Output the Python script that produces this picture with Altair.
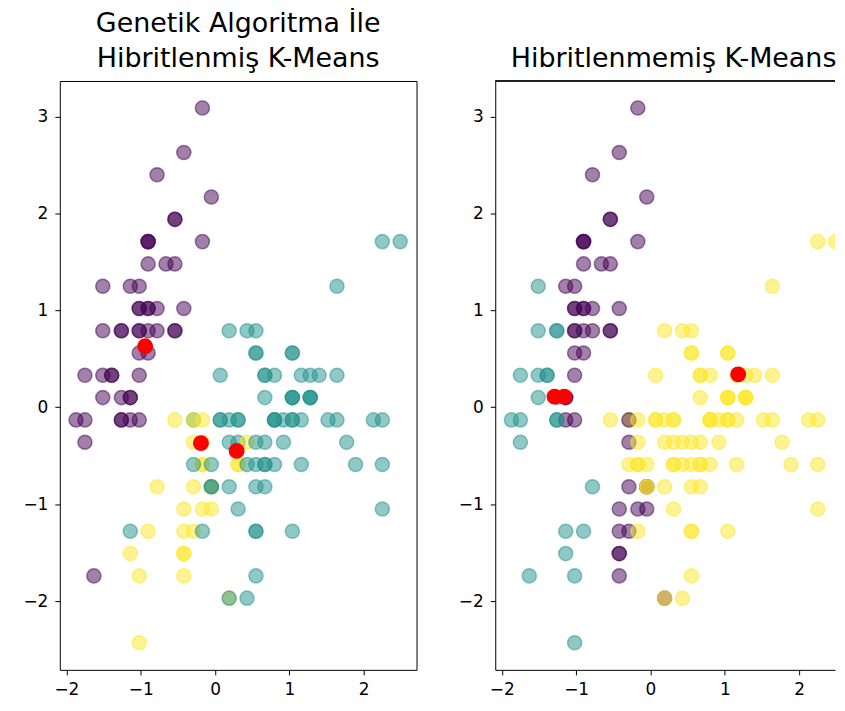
import altair as alt
import pandas as pd

# standardized sepal length (x) and sepal width (y) of the 150 points, in drawing order
x_vals = [
    -0.90, -1.14, -1.39, -1.51, -1.02, -0.54, -1.51, -1.02, -1.75, -1.14,
    -0.54, -1.26, -1.26, -1.87, -0.05, -0.17, -0.54, -0.90, -0.17, -0.90,
    -0.54, -0.90, -1.51, -0.90, -1.26, -1.02, -1.02, -0.78, -0.78, -1.39,
    -1.26, -0.54, -0.78, -0.42, -1.14, -1.02, -0.42, -1.14, -1.75, -0.90,
    -1.02, -1.63, -1.75, -1.02, -0.90, -1.26, -0.90, -1.51, -0.66, -1.02,
    1.40, 0.67, 1.28, -0.42, 0.80, -0.17, 0.55, -1.14, 0.92, -0.78,
    -1.02, 0.07, 0.19, 0.31, -0.29, 1.04, -0.29, -0.05, 0.43, -0.29,
    0.07, 0.31, 0.55, 0.31, 0.67, 0.92, 1.16, 1.04, 0.19, -0.17,
    -0.42, -0.42, -0.05, 0.19, -0.54, 0.19, 1.04, 0.55, -0.29, -0.42,
    -0.42, 0.31, -0.05, -1.02, -0.29, -0.17, -0.17, 0.43, -0.90, -0.17,
    0.55, -0.05, 1.52, 0.55, 0.80, 2.13, -1.14, 1.77, 1.04, 1.64,
    0.80, 0.67, 1.16, -0.17, -0.05, 0.67, 0.80, 2.25, 2.25, 0.19,
    1.28, -0.29, 2.25, 0.55, 1.04, 1.64, 0.43, 0.31, 0.67, 1.64,
    1.89, 2.49, 0.67, 0.55, 0.31, 2.25, 0.55, 0.67, 0.19, 1.28,
    1.04, 1.28, -0.05, 1.16, 1.04, 1.04, 0.55, 0.80, 0.43, 0.07,
]
y_vals = [
    1.02, -0.13, 0.33, 0.10, 1.25, 1.94, 0.79, 0.79, -0.36, 0.10,
    1.48, 0.79, -0.13, -0.13, 2.17, 3.09, 1.94, 1.02, 1.71, 1.71,
    0.79, 1.48, 1.25, 0.56, 0.79, -0.13, 0.79, 1.02, 0.79, 0.33,
    0.10, 0.79, 2.40, 2.63, 0.10, 0.33, 1.02, 1.25, -0.13, 0.79,
    1.02, -1.74, 0.33, 1.02, 1.71, -0.13, 1.71, 0.33, 1.48, 0.56,
    0.33, 0.33, 0.10, -1.74, -0.59, -0.59, 0.56, -1.51, -0.36, -0.82,
    -2.43, -0.13, -1.97, -0.36, -0.36, 0.10, -0.13, -0.82, -1.97, -1.28,
    0.33, -0.59, -1.28, -0.59, -0.36, -0.13, -0.59, -0.13, -0.36, -1.05,
    -1.51, -1.51, -0.82, -0.82, -0.13, 0.79, 0.10, -1.74, -0.13, -1.28,
    -1.05, -0.13, -1.05, -1.74, -0.82, -0.13, -0.36, -0.36, -1.28, -0.59,
    0.56, -0.82, -0.13, -0.36, -0.13, -0.13, -1.28, -0.36, -1.28, 1.25,
    0.33, -0.82, -0.13, -1.28, -0.59, 0.33, -0.13, 1.71, -1.05, -1.97,
    0.33, -0.59, -0.59, -0.82, 0.56, 0.33, -0.59, -0.13, -0.59, -0.13,
    -0.59, 1.71, -0.59, -0.59, -1.05, -0.13, 0.79, 0.10, -0.13, 0.10,
    0.10, 0.10, -0.82, 0.33, 0.56, -0.13, -1.28, -0.13, 0.79, -0.13,
]
# cluster labels, genetic-algorithm hybrid k-means (left panel)
labels_ga = [
    0, 0, 0, 0, 0, 0, 0, 0, 0, 0,
    0, 0, 0, 0, 0, 0, 0, 0, 0, 0,
    0, 0, 0, 0, 0, 0, 0, 0, 0, 0,
    0, 0, 0, 0, 0, 0, 0, 0, 0, 0,
    0, 0, 0, 0, 0, 0, 0, 0, 0, 0,
    1, 1, 1, 2, 1, 2, 1, 2, 1, 2,
    2, 1, 2, 1, 2, 1, 1, 2, 1, 2,
    1, 2, 1, 2, 1, 1, 1, 1, 1, 2,
    2, 2, 2, 1, 2, 1, 1, 1, 2, 2,
    2, 1, 2, 2, 2, 2, 2, 2, 2, 2,
    1, 1, 1, 1, 1, 1, 1, 1, 1, 1,
    1, 1, 1, 1, 1, 1, 1, 1, 1, 1,
    1, 1, 1, 1, 1, 1, 1, 1, 1, 1,
    1, 1, 1, 1, 1, 1, 1, 1, 1, 1,
    1, 1, 1, 1, 1, 1, 1, 1, 1, 1,
]
# cluster labels, plain k-means (right panel)
labels_km = [
    0, 0, 1, 1, 0, 0, 1, 0, 1, 0,
    0, 1, 1, 1, 0, 0, 0, 0, 0, 0,
    0, 0, 1, 0, 1, 0, 0, 0, 0, 1,
    1, 0, 0, 0, 0, 0, 0, 0, 1, 0,
    0, 1, 1, 0, 0, 1, 0, 1, 0, 0,
    2, 2, 2, 0, 2, 2, 2, 1, 2, 1,
    1, 2, 0, 2, 0, 2, 2, 0, 2, 0,
    2, 2, 2, 2, 2, 2, 2, 2, 2, 0,
    0, 0, 0, 2, 2, 2, 2, 2, 0, 0,
    0, 2, 0, 1, 0, 2, 2, 2, 1, 2,
    2, 2, 2, 2, 2, 2, 1, 2, 2, 2,
    2, 2, 2, 2, 2, 2, 2, 2, 2, 2,
    2, 2, 2, 2, 2, 2, 2, 2, 2, 2,
    2, 2, 2, 2, 2, 2, 2, 2, 2, 2,
    2, 2, 2, 2, 2, 2, 2, 2, 2, 2,
]
# cluster centres (red)
centers_ga_x = [-0.94, -0.19, 0.29]
centers_ga_y = [0.63, -0.37, -0.45]
centers_km_x = [-1.29, -1.16, 1.18]
centers_km_y = [0.11, 0.11, 0.34]

x_ticks = [-2, -1, 0, 1, 2]
y_ticks = [-2, -1, 0, 1, 2, 3]
viridis3 = ["#440154", "#21918c", "#fde725"]
title_ga = ["Genetik Algoritma İle", "Hibritlenmiş K-Means"]
title_km = "Hibritlenmemiş K-Means"

FONT = "DejaVu Sans"
X_MIN, X_MAX = -2.088, 2.71
Y_MIN, Y_MAX = -2.71, 3.368
W_LEFT, W_RIGHT, H = 358, 341, 591
X_MAX_RIGHT = X_MIN + (X_MAX - X_MIN) * W_RIGHT / W_LEFT


def panel(labels, cx, cy, title, width, x_max, framed, dx):
    pts = pd.DataFrame({
        "x": x_vals,
        "y": y_vals,
        "c": [viridis3[k] for k in labels],
    })
    cents = pd.DataFrame({"x": cx, "y": cy})
    xenc = alt.X("x:Q", scale=alt.Scale(domain=[X_MIN, x_max], nice=False, zero=False),
                 axis=alt.Axis(values=x_ticks, format="d", title=None, grid=False,
                               domain=not framed, labelFlush=False))
    yenc = alt.Y("y:Q", scale=alt.Scale(domain=[Y_MIN, Y_MAX], nice=False, zero=False),
                 axis=alt.Axis(values=y_ticks, format="d", title=None, grid=False,
                               domain=not framed, labelFlush=False))
    dots = alt.Chart(pts).mark_circle(
        size=200, opacity=1, fillOpacity=0.5, strokeOpacity=0.5, strokeWidth=1.5, clip=True
    ).encode(
        x=xenc, y=yenc,
        color=alt.Color("c:N", scale=None, legend=None),
        stroke=alt.Stroke("c:N", scale=None, legend=None),
    )
    reds = alt.Chart(cents).mark_circle(
        size=210, opacity=1, color="#ff0000", stroke="#ff0000", strokeWidth=1.5, clip=True
    ).encode(x="x:Q", y="y:Q")
    layers = [dots, reds]
    if not framed:
        top = alt.Chart(cents).mark_rule(color="black", strokeWidth=1).encode(
            x=alt.value(0), x2=alt.value(width), y=alt.value(0)
        )
        layers.append(top)
    return alt.layer(*layers).properties(
        width=width,
        height=H,
        title=alt.TitleParams(
            text=title, font=FONT, fontSize=27, fontWeight="normal", color="black",
            anchor="middle", frame="group", offset=8, lineHeight=35, dx=dx,
        ),
        view=alt.ViewBackground(stroke="black" if framed else "transparent", strokeWidth=1),
    )


left = panel(labels_ga, centers_ga_x, centers_ga_y, title_ga, W_LEFT, X_MAX, True, 0)
right = panel(labels_km, centers_km_x, centers_km_y, title_km, W_RIGHT, X_MAX_RIGHT, False,
              (W_LEFT - W_RIGHT) / 2)

chart = alt.hconcat(left, right, spacing=79, bounds="flush").properties(
    padding={"left": 14, "top": 0, "right": 0, "bottom": 0}
).configure_view(stroke="transparent").configure_axis(
    labelFont=FONT, labelFontSize=17, labelColor="black", tickColor="black",
    domainColor="black", tickSize=5, tickWidth=1, domainWidth=1, labelPadding=7,
)

chart.save("out.html", embed_options={"renderer": "svg", "actions": False})
